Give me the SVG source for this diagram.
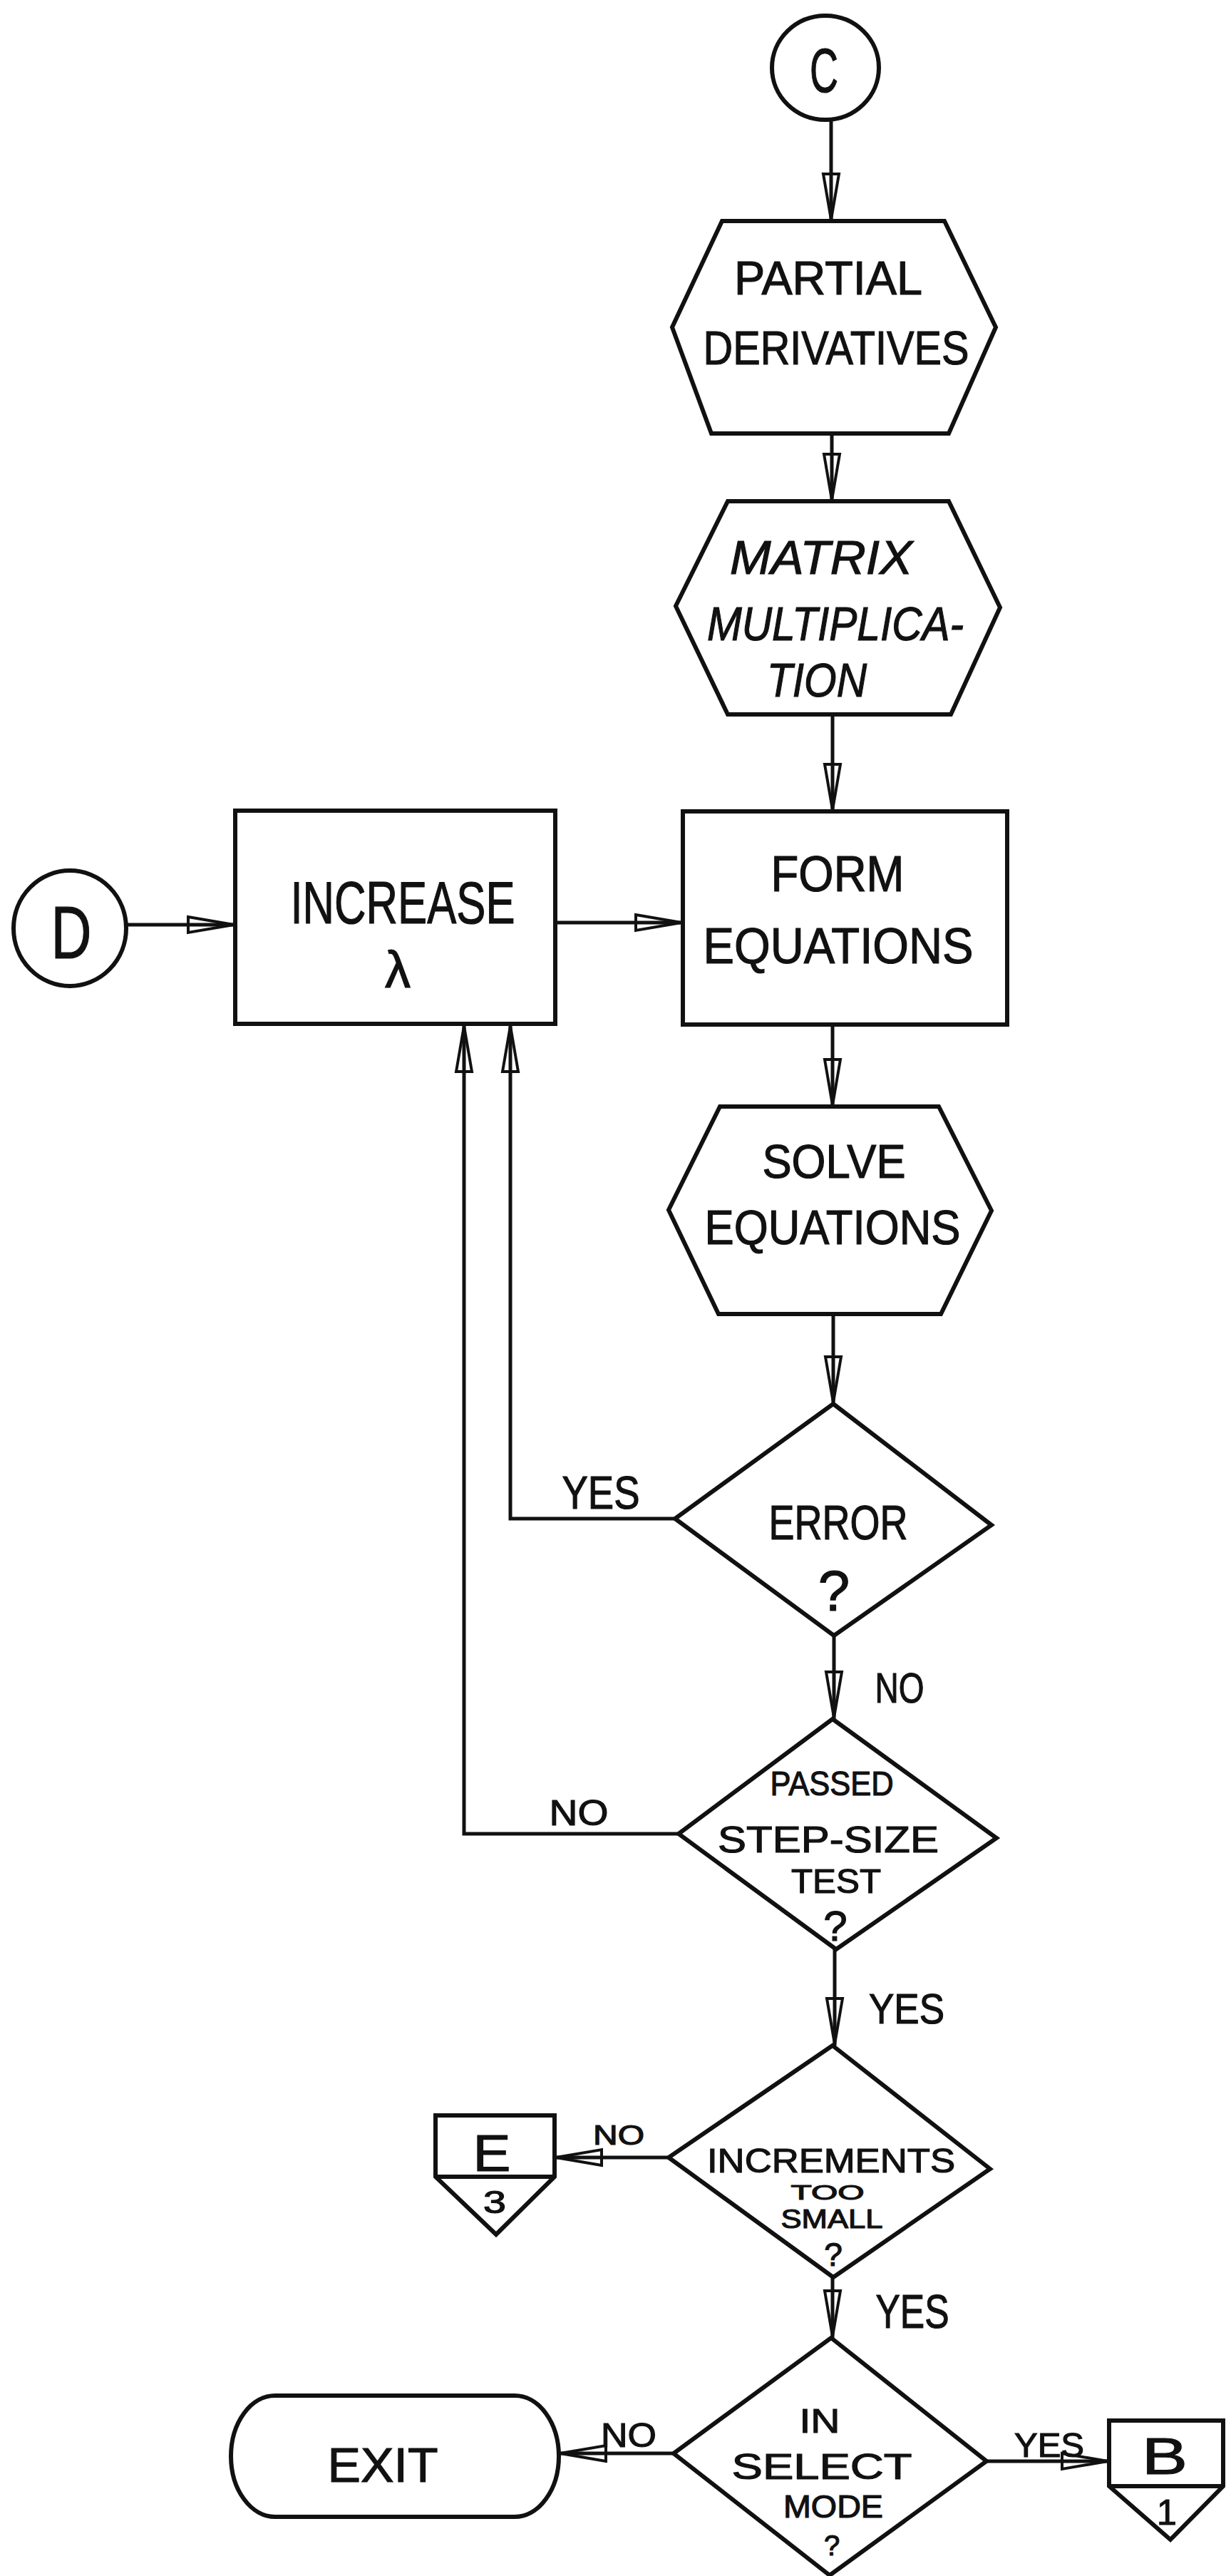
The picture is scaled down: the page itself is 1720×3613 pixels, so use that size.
<svg xmlns="http://www.w3.org/2000/svg" width="1720" height="3613" viewBox="0 0 1720 3613">
<style>
.s{fill:none;stroke:#111;stroke-width:6;stroke-linejoin:miter}
.c{fill:none;stroke:#111;stroke-width:5}
text{font-family:"Liberation Sans",Arial,sans-serif;fill:#111;stroke:#111;stroke-width:1.2;text-anchor:middle}
.i{font-style:italic}
</style>
<defs>
<marker id="ah" markerUnits="userSpaceOnUse" markerWidth="80" markerHeight="30" refX="68" refY="0" orient="auto" overflow="visible">
<path d="M2,-11 L66,0 L2,11 Z" fill="none" stroke="#111" stroke-width="4"/>
</marker>
</defs>
<rect width="1720" height="3613" fill="#fff"/>
<g id="connectors">
<path class="c" d="M1166,169 V310" marker-end="url(#ah)"/>
<path class="c" d="M1167,608 V703" marker-end="url(#ah)"/>
<path class="c" d="M1168,1002 V1138" marker-end="url(#ah)"/>
<path class="c" d="M177,1297 H330" marker-end="url(#ah)"/>
<path class="c" d="M779,1294 H958" marker-end="url(#ah)"/>
<path class="c" d="M1168,1437 V1552" marker-end="url(#ah)"/>
<path class="c" d="M1169,1843 V1969" marker-end="url(#ah)"/>
<path class="c" d="M947,2130 H716 V1437" marker-end="url(#ah)"/>
<path class="c" d="M1170,2294 V2411" marker-end="url(#ah)"/>
<path class="c" d="M952,2572 H651 V1437" marker-end="url(#ah)"/>
<path class="c" d="M1171,2734 V2869" marker-end="url(#ah)"/>
<path class="c" d="M938,3026 H778" marker-end="url(#ah)"/>
<path class="c" d="M1168,3194 V3279" marker-end="url(#ah)"/>
<path class="c" d="M945,3441 H784" marker-end="url(#ah)"/>
<path class="c" d="M1384,3452 H1556" marker-end="url(#ah)"/>
<text x="843" y="2116" font-size="64" textLength="109" lengthAdjust="spacingAndGlyphs">YES</text>
<text x="1262" y="2388" font-size="60" textLength="69" lengthAdjust="spacingAndGlyphs">NO</text>
<text x="812" y="2560" font-size="50" textLength="83" lengthAdjust="spacingAndGlyphs">NO</text>
<text x="1272" y="2838" font-size="60" textLength="106" lengthAdjust="spacingAndGlyphs">YES</text>
<text x="868" y="3008" font-size="38" textLength="72" lengthAdjust="spacingAndGlyphs">NO</text>
<text x="1280" y="3265" font-size="66" textLength="103" lengthAdjust="spacingAndGlyphs">YES</text>
<text x="882" y="3432" font-size="49" textLength="78" lengthAdjust="spacingAndGlyphs">NO</text>
<text x="1472" y="3446" font-size="48" textLength="98" lengthAdjust="spacingAndGlyphs">YES</text>
</g>
<g id="node-c">
<ellipse class="s" cx="1158" cy="95" rx="75" ry="73"/>
<text x="1156" y="129" font-size="87" textLength="40" lengthAdjust="spacingAndGlyphs">C</text>
</g>
<g id="node-partial">
<polygon class="s" points="1013,310 1325,310 1397,459 1331,608 998,608 943,459"/>
<text x="1162" y="413" font-size="67" textLength="264" lengthAdjust="spacingAndGlyphs">PARTIAL</text>
<text x="1173" y="511" font-size="67" textLength="373" lengthAdjust="spacingAndGlyphs">DERIVATIVES</text>
</g>
<g id="node-matrix">
<polygon class="s" points="1021,703 1331,703 1403,852 1334,1002 1021,1002 948,850"/>
<text class="i" x="1152" y="805" font-size="67" textLength="256" lengthAdjust="spacingAndGlyphs">MATRIX</text>
<text class="i" x="1172" y="898" font-size="67" textLength="360" lengthAdjust="spacingAndGlyphs">MULTIPLICA-</text>
<text class="i" x="1146" y="977" font-size="67" textLength="140" lengthAdjust="spacingAndGlyphs">TION</text>
</g>
<g id="node-d">
<ellipse class="s" cx="98" cy="1302" rx="79" ry="81"/>
<text x="100" y="1344" font-size="104" textLength="57" lengthAdjust="spacingAndGlyphs">D</text>
</g>
<g id="node-increase">
<rect class="s" x="330" y="1137" width="449" height="299"/>
<text x="565" y="1295" font-size="84" textLength="315" lengthAdjust="spacingAndGlyphs">INCREASE</text>
<text x="558" y="1385" font-size="72">λ</text>
</g>
<g id="node-form">
<rect class="s" x="958" y="1138" width="455" height="299"/>
<text x="1175" y="1250" font-size="70" textLength="187" lengthAdjust="spacingAndGlyphs">FORM</text>
<text x="1176" y="1351" font-size="70" textLength="379" lengthAdjust="spacingAndGlyphs">EQUATIONS</text>
</g>
<g id="node-solve">
<polygon class="s" points="1010,1552 1317,1552 1391,1698 1320,1843 1008,1843 938,1697"/>
<text x="1170" y="1652" font-size="66" textLength="201" lengthAdjust="spacingAndGlyphs">SOLVE</text>
<text x="1168" y="1745" font-size="68" textLength="359" lengthAdjust="spacingAndGlyphs">EQUATIONS</text>
</g>
<g id="node-error">
<polygon class="s" points="1169,1969 1391,2139 1170,2294 947,2130"/>
<text x="1176" y="2159" font-size="68" textLength="195" lengthAdjust="spacingAndGlyphs">ERROR</text>
<text x="1170" y="2259" font-size="80">?</text>
</g>
<g id="node-passed">
<polygon class="s" points="1168,2411 1398,2578 1173,2734 952,2572"/>
<text x="1167" y="2518" font-size="48" textLength="173" lengthAdjust="spacingAndGlyphs">PASSED</text>
<text x="1162" y="2598" font-size="52" textLength="310" lengthAdjust="spacingAndGlyphs">STEP-SIZE</text>
<text x="1173" y="2655" font-size="48" textLength="126" lengthAdjust="spacingAndGlyphs">TEST</text>
<text x="1172" y="2722" font-size="60">?</text>
</g>
<g id="node-increments">
<polygon class="s" points="1168,2869 1389,3042 1169,3194 938,3026"/>
<text x="1166" y="3047" font-size="48" textLength="348" lengthAdjust="spacingAndGlyphs">INCREMENTS</text>
<text x="1161" y="3085" font-size="30" textLength="103" lengthAdjust="spacingAndGlyphs">TOO</text>
<text x="1167" y="3125" font-size="37" textLength="143" lengthAdjust="spacingAndGlyphs">SMALL</text>
<text x="1169" y="3178" font-size="46">?</text>
</g>
<g id="node-e">
<path class="s" d="M611,2967 H778 V3053 L696,3134 L611,3053 Z M611,3053 H778"/>
<text x="690" y="3045" font-size="72" textLength="53" lengthAdjust="spacingAndGlyphs">E</text>
<text x="694" y="3104" font-size="44" textLength="32" lengthAdjust="spacingAndGlyphs">3</text>
</g>
<g id="node-select">
<polygon class="s" points="1166,3279 1384,3452 1164,3612 945,3441"/>
<text x="1150" y="3412" font-size="49" textLength="57" lengthAdjust="spacingAndGlyphs">IN</text>
<text x="1153" y="3477" font-size="50" textLength="253" lengthAdjust="spacingAndGlyphs">SELECT</text>
<text x="1169" y="3531" font-size="44" textLength="140" lengthAdjust="spacingAndGlyphs">MODE</text>
<text x="1167" y="3584" font-size="40">?</text>
</g>
<g id="node-exit">
<rect class="s" x="324" y="3360" width="460" height="170" rx="62" ry="85"/>
<text x="537" y="3481" font-size="68" textLength="155" lengthAdjust="spacingAndGlyphs">EXIT</text>
</g>
<g id="node-b">
<path class="s" d="M1556,3395 H1716 V3487 L1642,3562 L1556,3487 Z M1556,3487 H1716"/>
<text x="1634" y="3470" font-size="72" textLength="64" lengthAdjust="spacingAndGlyphs">B</text>
<text x="1637" y="3541" font-size="50">1</text>
</g>
</svg>
